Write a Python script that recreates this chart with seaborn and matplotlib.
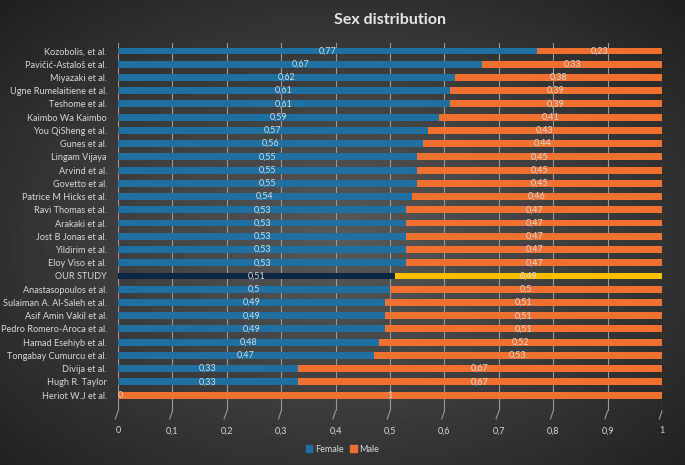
"""Sex distribution across studies: stacked horizontal bars on a dark Excel-like background."""
import matplotlib

matplotlib.use("Agg")
import matplotlib.pyplot as plt
import numpy as np
import pandas as pd
import seaborn as sns
from matplotlib.patches import Patch

studies = [
    "Kozobolis, et al.", "Pavičić-Astaloš et al.", "Miyazaki et al.",
    "Ugne Rumelaitiene et al.", "Teshome et al.", "Kaimbo Wa Kaimbo",
    "You QiSheng et al.", "Gunes et al.", "Lingam Vijaya", "Arvind et al.",
    "Govetto et al.", "Patrice M Hicks et al.", "Ravi Thomas et al.",
    "Arakaki et al.", "Jost B Jonas et al.", "Yildirim et al.",
    "Eloy Viso et al.", "OUR STUDY", "Anastasopoulos et al.",
    "Sulaiman A. Al-Saleh et al.", "Asif Amin Vakil et al.",
    "Pedro Romero-Aroca et al.", "Hamad Esehiyb et al.",
    "Tongabay Cumurcu et al.", "Divija et al.", "Hugh R. Taylor",
    "Heriot W.J et al.",
]
female = [0.77, 0.67, 0.62, 0.61, 0.61, 0.59, 0.57, 0.56, 0.55, 0.55, 0.55,
          0.54, 0.53, 0.53, 0.53, 0.53, 0.53, 0.51, 0.5, 0.49, 0.49, 0.49,
          0.48, 0.47, 0.33, 0.33, 0.0]
male = [0.23, 0.33, 0.38, 0.39, 0.39, 0.41, 0.43, 0.44, 0.45, 0.45, 0.45,
        0.46, 0.47, 0.47, 0.47, 0.47, 0.47, 0.49, 0.5, 0.51, 0.51, 0.51,
        0.52, 0.53, 0.67, 0.67, 1.0]
highlight = "OUR STUDY"

FEMALE_C, MALE_C = "#1f6fa0", "#f07030"
HL_FEMALE_C, HL_MALE_C = "#0c2741", "#ffc000"
TEXT_C = "#d9d9d9"

df = pd.DataFrame({"study": studies, "female": female, "male": male})
df["total"] = df["female"] + df["male"]

plt.rcParams["font.family"] = ["Lato", "DejaVu Sans"]

fig = plt.figure(figsize=(6.85, 4.65), dpi=100)

# radial dark-gray background
bg = fig.add_axes([0, 0, 1, 1], zorder=-10)
yy, xx = np.mgrid[0:465, 0:685]
r = np.sqrt(((xx - 342) / 470) ** 2 + ((yy - 240) / 330) ** 2)
shade = np.clip(0.35 - 0.22 * r, 0.09, 1)
bg.imshow(shade, cmap="gray", vmin=0, vmax=1, aspect="auto")
bg.axis("off")

ax = fig.add_axes([118 / 685, 1 - 411 / 465, 544 / 685, 368 / 465])
ax.set_facecolor("none")

male_pal = {s: (HL_MALE_C if s == highlight else MALE_C) for s in studies}
fem_pal = {s: (HL_FEMALE_C if s == highlight else FEMALE_C) for s in studies}

sns.barplot(data=df, x="total", y="study", hue="study", palette=male_pal,
            order=studies, orient="h", width=0.52, legend=False, ax=ax,
            saturation=1, zorder=3)
sns.barplot(data=df, x="female", y="study", hue="study", palette=fem_pal,
            order=studies, orient="h", width=0.52, legend=False, ax=ax,
            saturation=1, zorder=4)

for i, row in df.iterrows():
    ax.text(row["female"] / 2 + (0.004 if row["female"] == 0 else 0), i,
            f"{row['female']:g}".replace(".", ","), color=TEXT_C,
            fontsize=6.5, ha="center", va="center", zorder=6)
    ax.text(row["female"] + row["male"] / 2, i,
            f"{row['male']:g}".replace(".", ","), color=TEXT_C,
            fontsize=6.5, ha="center", va="center", zorder=6)

ax.set_xlim(0, 1)
ax.set_ylim(27.2, -0.6)
ax.set_xticks(np.arange(0, 1.01, 0.1))
ax.set_xticklabels([f"{t:g}".replace(".", ",") for t in np.arange(0, 1.01, 0.1)])
ax.tick_params(axis="x", length=0, pad=11, labelsize=6.5, colors=TEXT_C)
ax.tick_params(axis="y", length=0, pad=8, labelsize=6.6, colors=TEXT_C)
ax.set_xlabel("")
ax.set_ylabel("")
ax.grid(axis="x", color="#9a9a9a", linewidth=0.8, zorder=0)
ax.grid(axis="y", visible=False)
for side in ax.spines.values():
    side.set_visible(False)

# little slanted feet at the bottom of the grid lines (3D floor look)
for t in np.arange(0, 1.01, 0.1):
    ax.plot([t, t - 0.005], [27.2, 27.8], color="#9a9a9a", linewidth=0.8,
            clip_on=False, zorder=0)

ax.set_title("Sex distribution", color="#e6e6e6", fontsize=11.5,
             fontweight="bold", pad=14)

handles = [Patch(color=FEMALE_C, label="Female"), Patch(color=MALE_C, label="Male")]
fig.legend(handles=handles, loc="center", bbox_to_anchor=(0.5, 1 - 449 / 465),
           ncol=2, frameon=False, fontsize=6.5, labelcolor=TEXT_C,
           handlelength=0.7, handleheight=0.7, handletextpad=0.3,
           columnspacing=0.8)

fig.savefig("out.png", dpi=100)
